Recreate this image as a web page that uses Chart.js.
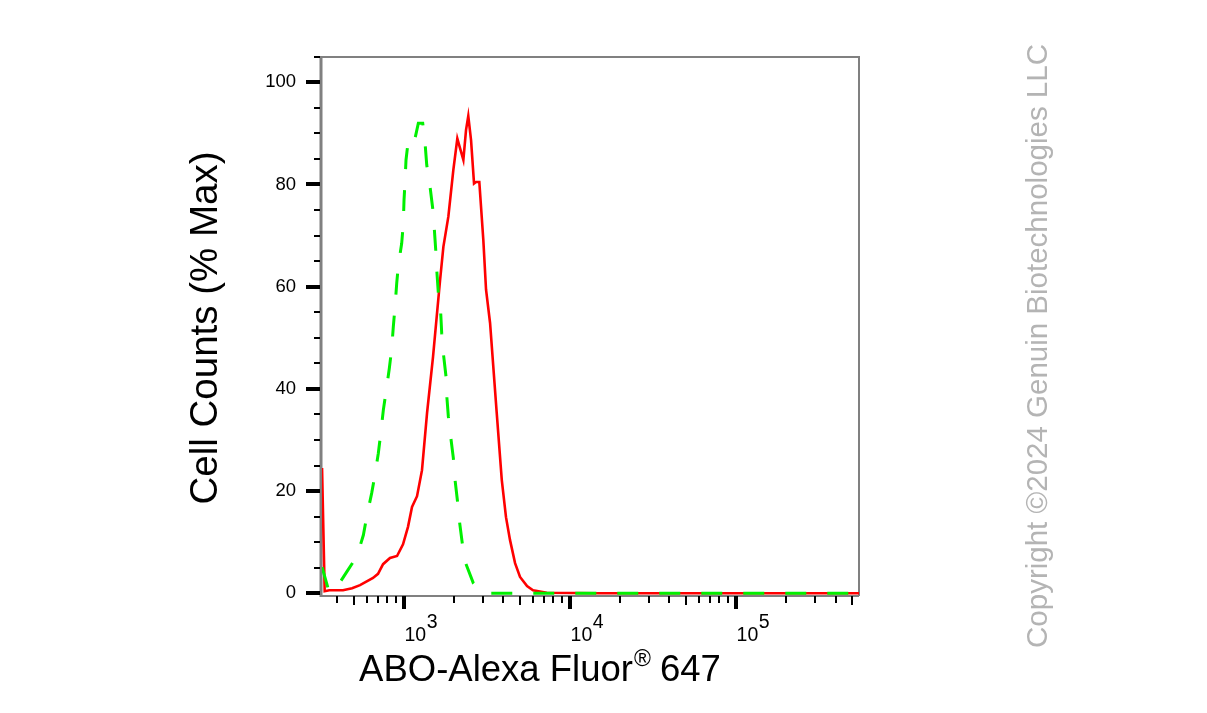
<!DOCTYPE html>
<html>
<head>
<meta charset="utf-8">
<script src="https://cdn.jsdelivr.net/npm/chart.js@4.4.1/dist/chart.umd.min.js"></script>
<style>
  html, body { margin: 0; padding: 0; background: #fff; }
</style>
</head>
<body>
<canvas id="flowChart" width="1207" height="713"></canvas>
<script>
// sample (red, solid)
const redX = [323, 335, 357, 432, 490, 547, 655, 702, 753, 829, 914, 993, 1064, 1125, 1206,
	1292, 1386, 1506, 1660, 1738, 1862, 1995, 2109, 2189, 2293, 2380, 2455, 2551, 2659, 2735,
	2861, 3025, 3141, 3321, 3642, 3906, 4142, 4381, 4697, 5032, 5546, 6026, 7290, 15280, 554000];
const redY = [24.5, 0.4, 0.6, 0.6, 1.0, 1.6, 3.0, 3.8, 5.7, 6.9, 7.3, 9.6, 13.0, 16.9, 19.0,
	24.1, 35.3, 46.3, 61.3, 67.8, 73.7, 82.8, 89.0, 87.1, 84.8, 90.7, 93.4, 88.7, 80.2, 80.5,
	80.5, 69.1, 59.4, 52.9, 35.3, 22.2, 14.9, 10.4, 5.9, 3.2, 1.4, 0.6, 0.1, 0, 0];

// control (green, dashed)
const greenX = [323, 356, 415, 457, 525, 573, 600, 643, 673, 705, 729, 756, 785, 821, 849,
	868, 889, 910, 931, 975, 997, 1007, 1021, 1035, 1069, 1094, 1157, 1228, 1305, 1348,
	1380, 1444, 1499, 1532, 1563, 1585, 1621, 1675, 1698, 1737, 1803, 1820, 1862, 1924, 1995,
	2043, 2109, 2168, 2259, 2347, 2633, 2891, 3246, 554000];
const greenY = [5.1, 0.3, 2.2, 4.3, 7.3, 11.4, 15.0, 19.6, 23.2, 27.4, 31.3, 35.9, 39.5, 44.0, 47.9,
	52.2, 56.1, 60.7, 64.2, 68.5, 72.4, 77.0, 80.5, 84.8, 88.7, 88.7, 88.1, 92.0, 92.0, 88.1,
	83.8, 79.6, 75.3, 71.4, 67.2, 63.3, 58.7, 54.8, 50.9, 47.0, 42.4, 38.8, 34.6, 30.6, 26.5,
	22.2, 18.3, 14.3, 9.8, 6.2, 2.0, 0.6, 0, 0];

// axis ticks
const yTickValues = [0, 5, 10, 15, 20, 25, 30, 35, 40, 45, 50, 55, 60, 65, 70, 75, 80, 85, 90, 95, 100, 105];
const xMajorTicks = [1000, 10000, 100000];
const xMajorExp = ['3', '4', '5'];
const xMinorTicks = [400, 500, 600, 700, 800, 900,
	2000, 3000, 4000, 5000, 6000, 7000, 8000, 9000,
	20000, 30000, 40000, 50000, 60000, 70000, 80000, 90000,
	200000, 300000, 400000, 500000];

const yTitle = 'Cell Counts (% Max)';
const xTitle = 'ABO-Alexa Fluor';
const xTitleMark = '\u00AE';
const xTitleEnd = ' 647';
const copyright = 'Copyright \u00A92024 Genuin Biotechnologies LLC';

const FONT = "'Liberation Sans', Arial, Helvetica, sans-serif";

const toPoints = (xs, ys) => xs.map((x, i) => ({x: x, y: ys[i]}));

const flowAxes = {
	id: 'flowAxes',
	beforeDatasetsDraw(chart) {
		const {ctx, chartArea: a} = chart;
		ctx.save();
		ctx.strokeStyle = '#808080';
		ctx.lineWidth = 2;
		ctx.beginPath();
		ctx.moveTo(a.left, a.top);
		ctx.lineTo(a.right, a.top);
		ctx.lineTo(a.right, a.bottom);
		ctx.stroke();
		ctx.beginPath();
		ctx.moveTo(a.left, a.bottom);
		ctx.lineTo(a.right, a.bottom);
		ctx.stroke();
		ctx.lineWidth = 3;
		ctx.beginPath();
		ctx.moveTo(a.left - 1, a.top - 1);
		ctx.lineTo(a.left - 1, a.bottom + 1);
		ctx.stroke();
		ctx.restore();
	},
	afterDatasetsDraw(chart) {
		const {ctx, chartArea: a} = chart;
		const xs = chart.scales.x;
		const ys = chart.scales.y;
		ctx.save();
		ctx.strokeStyle = '#000';

		// y ticks
		yTickValues.forEach(v => {
			const py = Math.round(ys.getPixelForValue(v));
			const major = v % 20 === 0;
			ctx.lineWidth = major ? 4 : 2;
			ctx.beginPath();
			ctx.moveTo(a.left - 2, py);
			ctx.lineTo(a.left - (major ? 16 : 8), py);
			ctx.stroke();
		});

		// x ticks
		ctx.lineWidth = 2;
		xMinorTicks.forEach(v => {
			const px = Math.round(xs.getPixelForValue(v));
			const len = String(v)[0] === '5' ? 9 : 7;
			ctx.beginPath();
			ctx.moveTo(px, a.bottom);
			ctx.lineTo(px, a.bottom + len);
			ctx.stroke();
		});
		ctx.lineWidth = 4;
		xMajorTicks.forEach(v => {
			const px = Math.round(xs.getPixelForValue(v));
			ctx.beginPath();
			ctx.moveTo(px, a.bottom);
			ctx.lineTo(px, a.bottom + 13);
			ctx.stroke();
		});

		// x tick labels: 10 with raised exponent
		ctx.fillStyle = '#000';
		ctx.font = '19.5px ' + FONT;
		ctx.textAlign = 'left';
		ctx.textBaseline = 'alphabetic';
		xMajorTicks.forEach((v, i) => {
			const px = xs.getPixelForValue(v) + 1;
			ctx.fillText('10', px, 641);
			const w = ctx.measureText('10').width;
			ctx.fillText(xMajorExp[i], px + w + 0.5, 628);
		});

		// axis titles
		ctx.font = '38.5px ' + FONT;
		ctx.save();
		ctx.translate(206, 328);
		ctx.rotate(-Math.PI / 2);
		ctx.textAlign = 'center';
		ctx.textBaseline = 'middle';
		ctx.fillText(yTitle, 0, 0);
		ctx.restore();

		ctx.font = '36.5px ' + FONT;
		const w1 = ctx.measureText(xTitle).width;
		const w3 = ctx.measureText(xTitleEnd).width;
		ctx.font = '23px ' + FONT;
		const w2 = ctx.measureText(xTitleMark).width;
		let x0 = 540 - (w1 + w2 + w3) / 2;
		ctx.font = '36.5px ' + FONT;
		ctx.fillText(xTitle, x0, 681);
		ctx.font = '23px ' + FONT;
		ctx.fillText(xTitleMark, x0 + w1 + 1, 666);
		ctx.font = '36.5px ' + FONT;
		ctx.fillText(xTitleEnd, x0 + w1 + w2, 681);

		// watermark
		ctx.fillStyle = '#b4b4b4';
		ctx.font = '29.5px ' + FONT;
		ctx.translate(1039, 346);
		ctx.rotate(-Math.PI / 2);
		ctx.textAlign = 'center';
		ctx.textBaseline = 'middle';
		ctx.fillText(copyright, 0, 0);
		ctx.restore();
	}
};

const config = {
	type: 'line',
	data: {
		datasets: [{
			label: 'Control',
			data: toPoints(greenX, greenY),
			borderColor: '#00f000',
			borderWidth: 3,
			borderDash: [21, 21],
			pointRadius: 0,
			tension: 0,
			fill: false
		}, {
			label: 'ABO',
			data: toPoints(redX, redY),
			borderColor: '#ff0000',
			borderWidth: 2.6,
			pointRadius: 0,
			tension: 0,
			fill: false
		}]
	},
	options: {
		responsive: false,
		animation: false,
		devicePixelRatio: 1,
		layout: {padding: {left: 0, top: 57, right: 348, bottom: 117}},
		plugins: {legend: {display: false}, tooltip: {enabled: false}},
		scales: {
			x: {
				type: 'logarithmic',
				min: 322.8,
				max: 554000,
				display: false
			},
			y: {
				type: 'linear',
				min: -0.53,
				max: 104.95,
				afterFit: s => { s.width = 322; },
				grid: {display: false},
				border: {display: false},
				ticks: {
					stepSize: 20,
					includeBounds: false,
					padding: 18,
					color: '#000',
					font: {family: FONT, size: 18.5}
				}
			}
		}
	},
	plugins: [flowAxes]
};

new Chart(document.getElementById('flowChart'), config);
</script>
</body>
</html>
